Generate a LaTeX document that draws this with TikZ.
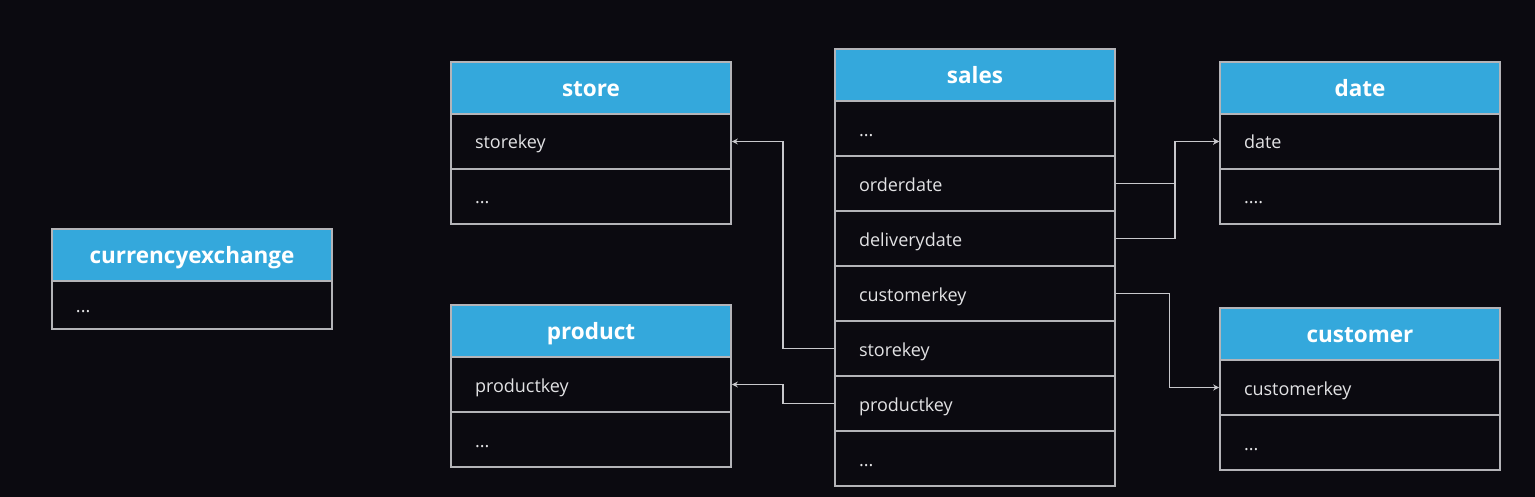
\documentclass[tikz,border=0pt]{standalone}
\usepackage{fontspec}
\setmainfont{Open Sans}
\usetikzlibrary{matrix}
\usetikzlibrary{positioning}
\usetikzlibrary{arrows.meta}
\definecolor{bg}{HTML}{0B0A10}
\definecolor{hdr}{HTML}{34A8DC}
\definecolor{rule}{HTML}{B4B4B8}
\definecolor{wire}{HTML}{C8C8CC}
\definecolor{rowtext}{HTML}{E2E2E4}
\tikzset{table/.style={
          matrix of nodes,
          matrix anchor=north west,
          inner sep=0pt,
          row sep=-1.6pt,
          nodes={draw=rule, line width=1.6pt, fill=bg, text width=232pt, inner xsep=24pt, minimum height=55pt, text height=16pt, text depth=1pt, align=left, anchor=center, text=rowtext, font=\fontsize{18}{20}\selectfont},
          row 1/.style={nodes={fill=hdr, minimum height=52pt, text height=19pt, text depth=2pt, align=center, text=white, font=\fontsize{22.5}{24}\selectfont\bfseries}},
          },
        link/.style={draw=wire, line width=1.6pt, -{Stealth[length=6pt, width=6pt]}},
}
\begin{document}
\begin{tikzpicture}[x=1pt, y=-1pt]
      \fill[bg] (0,0) rectangle (1535,497);
      \useasboundingbox (0,0) rectangle (1535,497);
      % CURRENCY EXCHANGE
      \matrix[table, row 2/.style={nodes={minimum height=48pt}}] (currency) at (51,228) {
        currencyexchange \\
        ... \\
      };
      % STORE AND PRODUCT
      \matrix[table] (store) at (450,61) {
        store \\
        storekey \\
        ... \\
      };
      \matrix[table] (product) at (450,304) {
        product \\
        productkey \\
        ... \\
      };
      % SALES
      \matrix[table] (sales) at (834,48) {
        sales \\
        ... \\
        orderdate \\
        deliverydate \\
        customerkey \\
        storekey \\
        productkey \\
        ... \\
      };
      % DATE AND CUSTOMER
      \matrix[table] (date) at (1219,61) {
        date \\
        date \\
        .... \\
      };
      \matrix[table] (customer) at (1219,307) {
        customer \\
        customerkey \\
        ... \\
      };

      % WIRING
      \path(store-2-1.east) -- (sales-6-1.west) coordinate[pos=0.5](sk);
      \path(product-2-1.east) -- (sales-7-1.west) coordinate[pos=0.5](pk);
      \path(sales-3-1.east) -- (date-2-1.west) coordinate[pos=0.57](dk);
      \path(sales-5-1.east) -- (customer-2-1.west) coordinate[pos=0.52](ck);
      \draw[link](sales-6-1.west) -- (sales-6-1.west -| sk) |- (store-2-1.east);
      \draw[link](sales-7-1.west) -- (sales-7-1.west -| pk) |- (product-2-1.east);
      \draw[link](sales-3-1.east) -- (sales-3-1.east -| dk) |- (date-2-1.west);
      \draw[link](sales-4-1.east) -- (sales-4-1.east -| dk) |- (date-2-1.west);
      \draw[link](sales-5-1.east) -- (sales-5-1.east -| ck) |- (customer-2-1.west);
\end{tikzpicture}
\end{document}
